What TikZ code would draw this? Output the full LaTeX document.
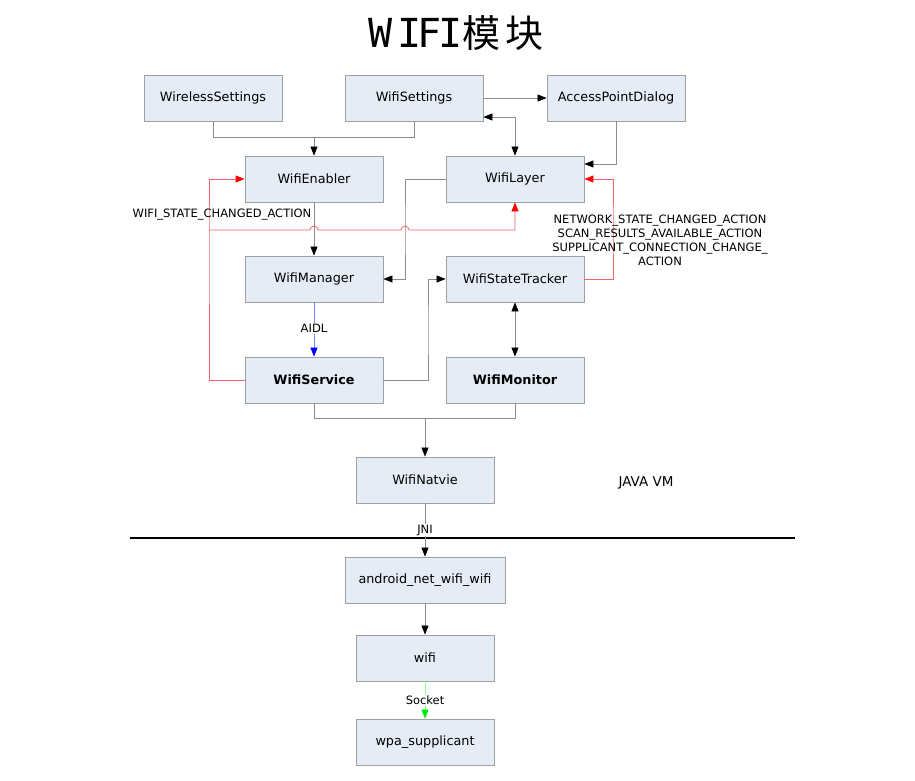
\documentclass[tikz,border=0pt]{standalone}
\usepackage{fontspec}
\setmainfont{DejaVu Sans}
\newfontfamily\cjk{Noto Sans CJK SC}
\newfontfamily\titlemono{DejaVu Sans Mono}
\usetikzlibrary{arrows.meta,calc}
\definecolor{boxfill}{RGB}{230,236,245}
\definecolor{boxline}{RGB}{160,160,160}
\definecolor{conncol}{RGB}{140,140,140}
\definecolor{redline}{RGB}{238,100,100}
\definecolor{blueline}{RGB}{128,128,255}
\definecolor{greenline}{RGB}{140,255,140}
\definecolor{greentip}{RGB}{0,235,0}
\begin{document}
\begin{tikzpicture}[x=1pt,y=-1pt,
  box/.style={draw=boxline,fill=boxfill,line width=0.8pt,minimum width=138pt,minimum height=46pt,inner sep=0pt,font=\fontsize{12.8}{15}\selectfont},
  boldbox/.style={box,font=\fontsize{12.8}{15}\selectfont\bfseries},
  conn/.style={draw=conncol,line width=0.7pt},
  arr/.style={conn,-{Triangle[length=9pt,width=7pt,color=black]}},
  darr/.style={conn,{Triangle[length=9pt,width=7pt,color=black]}-{Triangle[length=9pt,width=7pt,color=black]}},
  redarr/.style={draw=redline,line width=0.8pt,-{Triangle[length=9pt,width=7pt,color=red]}},
  bluearr/.style={draw=blueline,line width=0.7pt,-{Triangle[length=9pt,width=7pt,color=blue]}},
  greenarr/.style={draw=greenline,line width=0.7pt,-{Triangle[length=9pt,width=7pt,color=greentip]}},
  lbl/.style={font=\fontsize{11.5}{14}\selectfont,inner sep=1pt},
  tlat/.style={anchor=base,inner sep=0pt,font=\titlemono\fontsize{40}{44}\selectfont},
  tcjk/.style={anchor=base,inner sep=0pt,font=\cjk\fontsize{38}{42}\selectfont}
]
\useasboundingbox (0,0) rectangle (915,780);

\node[tlat] (t1) at (380.5,47) {W};
\node[tlat] (t2) at (409.5,47) {I};
\node[tlat] (t3) at (430,47) {F};
\node[tlat] (t4) at (450.5,47) {I};
\node[tcjk] (t5) at (481.5,47) {模};
\node[tcjk] (t6) at (524.5,47) {块};

\node[box] (ws) at (213,98) {WirelessSettings};
\node[box] (wset) at (414,98) {WifiSettings};
\node[box] (apd) at (616,98) {AccessPointDialog};
\node[box] (we) at (314,179) {WifiEnabler};
\node[box] (wl) at (515,179) {WifiLayer};
\node[box] (wm) at (314,279) {WifiManager};
\node[box] (wst) at (515,279) {WifiStateTracker};
\node[boldbox] (wsv) at (314,380) {WifiService};
\node[boldbox] (wmo) at (515,380) {WifiMonitor};
\node[box] (wn) at (425,480) {WifiNatvie};
\node[box,minimum width=160pt] (anw) at (425,580) {android\_net\_wifi\_wifi};
\node[box] (wifi) at (425,658) {wifi};
\node[box] (wpa) at (425,742) {wpa\_supplicant};

\coordinate (j1) at (314,137);
\coordinate (y117) at (0,117);
\coordinate (y164) at (0,164);
\coordinate (rl) at (209,230);
\coordinate (v405) at (405,230);
\coordinate (r613) at (613,230);
\coordinate (v428) at (428,330);
\coordinate (jb) at (425,418);

% top connectors
\draw[conn] (ws.south) |- (j1);
\draw[conn] (wset.south) |- (j1);
\draw[arr] (j1) -- (we.north);
\draw[arr] (wset.east) -- (apd.west);
\draw[darr] (wset.east |- y117) -| (wl.north);
\draw[arr] (apd.south) |- (wl.east |- y164);

% enabler / manager
\draw[arr] (we.south) -- (wm.north);
\draw[arr] (wl.west) -| (v405) |- (wm.east);

% red broadcast lines
\draw[redarr] (wsv.west) -| (rl) |- (we.west);
\draw[redarr] (rl) -- (310,230) arc[start angle=180,end angle=360,radius=4]
  -- (401,230) arc[start angle=180,end angle=360,radius=4]
  -- (wl.south |- rl) -- (wl.south);
\draw[redarr] (wst.east) -| (r613) |- (wl.east);

\node[lbl] (lwifi) at (222,215) {WIFI\_STATE\_CHANGED\_ACTION};
\node[lbl,align=center,font=\fontsize{11.5}{14}\selectfont] (lnet) at (660,240)
  {NETWORK\_STATE\_CHANGED\_ACTION\\SCAN\_RESULTS\_AVAILABLE\_ACTION\\SUPPLICANT\_CONNECTION\_CHANGE\_\\ACTION};

% service
\draw[bluearr] (wm.south) -- node[lbl,fill=white,pos=0.48] (laidl) {AIDL} (wsv.north);
\draw[arr] (wsv.east) -| (v428) |- (wst.west);
\draw[darr] (wst.south) -- (wmo.north);

\draw[conn] (wsv.south) |- (jb);
\draw[conn] (wmo.south) |- (jb);
\draw[arr] (jb) -- (wn.north);

% JNI boundary
\draw[line width=2.6pt,black] (130,538) coordinate (bl) -- (795,538) coordinate (br);
\node[font=\fontsize{13.5}{16}\selectfont] (jvm) at (646,483) {JAVA VM};
\draw[arr] (wn.south) -- node[lbl,fill=white,pos=0.5] (ljni) {JNI} (anw.north);

\draw[arr] (anw.south) -- (wifi.north);
\draw[greenarr] (wifi.south) -- node[lbl,fill=white,pos=0.5] (lsock) {Socket} (wpa.north);
\end{tikzpicture}
\end{document}
